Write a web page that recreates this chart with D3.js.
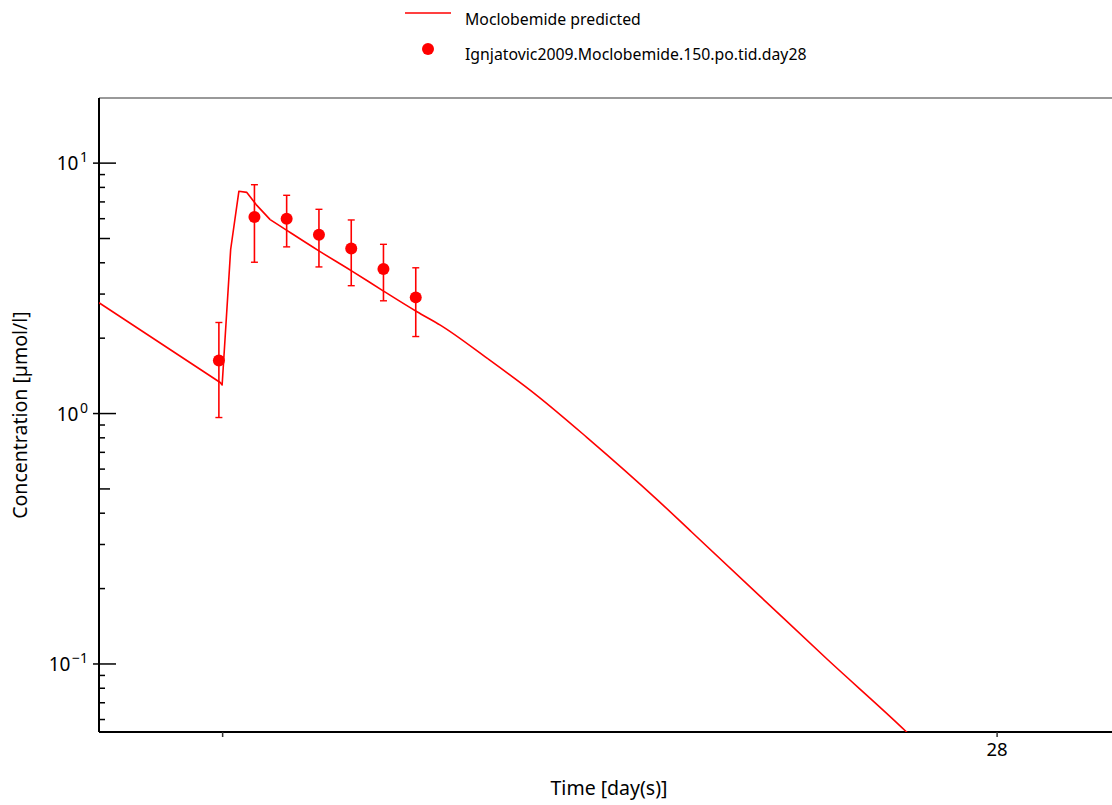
<!DOCTYPE html>
<html>
<head>
<meta charset="utf-8">
<script src="https://cdn.jsdelivr.net/npm/d3@7"></script>
<style>
  html, body { margin: 0; padding: 0; background: #fff; }
  svg { display: block; font-family: "Noto Sans", "Open Sans", sans-serif; }
</style>
</head>
<body>
<svg id="chart" width="1112" height="805"></svg>
<script>
// ---- data (time in days, concentration in µmol/l) ----
const predTime = [26.841, 26.9975, 27.000, 27.011, 27.0216, 27.0319, 27.0439, 27.062, 27.0836,
  27.1244, 27.1676, 27.2084, 27.2516, 27.2817, 27.342, 27.4066, 27.4712, 27.5616, 27.6047,
  27.6951, 27.7813, 27.8824, 27.9535];
const predConc = [2.77, 1.33, 1.30, 4.52, 7.72, 7.64, 6.83, 5.95, 5.386,
  4.473, 3.706, 3.083, 2.550, 2.256, 1.665, 1.180, 0.802, 0.4535, 0.340,
  0.1858, 0.1044, 0.0540, 0.0327];

const obsTime = [26.9958, 27.0417, 27.0833, 27.125, 27.1667, 27.2083, 27.25];
const obsConc = [1.63, 6.10, 6.00, 5.18, 4.56, 3.78, 2.91];
const obsLow  = [0.964, 4.02, 4.63, 3.85, 3.24, 2.82, 2.03];
const obsHigh = [2.31, 8.20, 7.44, 6.54, 5.93, 4.74, 3.82];

const xTicks = [27, 28];
const xTickLabels = ["", "28"];
const yMajorTicks = [0.1, 1, 10];
const yMajorExp = ["−1", "0", "1"];

const legendLabels = ["Moclobemide predicted", "Ignjatovic2009.Moclobemide.150.po.tid.day28"];
const xTitle = "Time [day(s)]";
const yTitle = "Concentration [µmol/l]";
const color = "#ff0000";

// ---- layout ----
const svg = d3.select("#chart");
const L = 99, R = 1112, T = 98, B = 732;

const x = d3.scaleLinear().domain([26.841, 28.149]).range([L, R]);
const y = d3.scaleLog().domain([0.0535, 18.2]).range([B, T]);

const defs = svg.append("defs");
defs.append("clipPath").attr("id", "plotclip")
  .append("rect").attr("x", L).attr("y", T).attr("width", R - L).attr("height", B - T);

// top border
svg.append("line").attr("x1", L).attr("x2", R).attr("y1", T).attr("y2", T)
  .attr("stroke", "#777").attr("stroke-width", 1.5);

// y axis
svg.append("line").attr("x1", L).attr("x2", L).attr("y1", T).attr("y2", B)
  .attr("stroke", "#000").attr("stroke-width", 2);
const minorTicks = [];
for (const dec of [0.01, 0.1, 1, 10]) {
  for (let m = 2; m <= 9; m++) {
    const v = dec * m;
    if (v >= y.domain()[0] && v <= y.domain()[1]) minorTicks.push(v);
  }
}
svg.append("g").selectAll("line").data(minorTicks).join("line")
  .attr("x1", L).attr("x2", d => Math.abs(d / Math.pow(10, Math.floor(Math.log10(d) + 1e-9)) - 5) < 1e-6 ? L + 11 : L + 6)
  .attr("y1", d => y(d)).attr("y2", d => y(d))
  .attr("stroke", "#000").attr("stroke-width", 1.5);
svg.append("g").selectAll("line").data(yMajorTicks).join("line")
  .attr("x1", L - 6).attr("x2", L + 17)
  .attr("y1", d => y(d)).attr("y2", d => y(d))
  .attr("stroke", "#000").attr("stroke-width", 1.5);
const yl = svg.append("g").selectAll("text").data(yMajorTicks).join("text")
  .attr("x", L - 11).attr("y", d => y(d) + 7)
  .attr("text-anchor", "end").attr("font-size", 19).attr("fill", "#000");
yl.append("tspan").text("10");
yl.append("tspan").attr("dx", 1.5).attr("dy", -8).attr("font-size", 14).text((d, i) => yMajorExp[i]);

// x axis
svg.append("line").attr("x1", L).attr("x2", R).attr("y1", B).attr("y2", B)
  .attr("stroke", "#000").attr("stroke-width", 2);
const xAxis = d3.axisBottom(x).tickValues(xTicks).tickSize(5).tickPadding(6)
  .tickFormat((d, i) => xTickLabels[i]);
const gx = svg.append("g").attr("transform", `translate(0,${B})`).call(xAxis);
gx.select(".domain").remove();
gx.selectAll(".tick line").attr("stroke", "#333").attr("stroke-width", 1.5);
gx.selectAll(".tick text").attr("font-size", 18.5).attr("fill", "#000")
  .attr("font-family", "'Noto Sans', 'Open Sans', sans-serif");

// titles
svg.append("text").attr("x", 609).attr("y", 795).attr("text-anchor", "middle")
  .attr("font-size", 19.5).attr("fill", "#000").text(xTitle);
svg.append("text").attr("transform", `translate(27,${415}) rotate(-90)`)
  .attr("text-anchor", "middle").attr("font-size", 19.5).attr("fill", "#000").text(yTitle);

// prediction line: linear through absorption phase, smooth through elimination tail
const plot = svg.append("g").attr("clip-path", "url(#plotclip)");
const predData = predTime.map((t, i) => ({ t, c: predConc[i] }));
const splitIdx = 7;
plot.append("path").datum(predData.slice(0, splitIdx + 1))
  .attr("fill", "none").attr("stroke", color).attr("stroke-width", 1.6)
  .attr("stroke-linejoin", "round")
  .attr("d", d3.line().x(d => x(d.t)).y(d => y(d.c)));
plot.append("path").datum(predData.slice(splitIdx))
  .attr("fill", "none").attr("stroke", color).attr("stroke-width", 1.6)
  .attr("d", d3.line().curve(d3.curveMonotoneX).x(d => x(d.t)).y(d => y(d.c)));

// observed with error bars
const obs = obsTime.map((t, i) => ({ t, c: obsConc[i], lo: obsLow[i], hi: obsHigh[i] }));
const eb = plot.append("g").selectAll("g").data(obs).join("g");
eb.append("line").attr("x1", d => x(d.t)).attr("x2", d => x(d.t))
  .attr("y1", d => y(d.lo)).attr("y2", d => y(d.hi))
  .attr("stroke", color).attr("stroke-width", 1.6);
eb.append("line").attr("x1", d => x(d.t) - 3.5).attr("x2", d => x(d.t) + 3.5)
  .attr("y1", d => y(d.lo)).attr("y2", d => y(d.lo))
  .attr("stroke", color).attr("stroke-width", 1.4);
eb.append("line").attr("x1", d => x(d.t) - 3.5).attr("x2", d => x(d.t) + 3.5)
  .attr("y1", d => y(d.hi)).attr("y2", d => y(d.hi))
  .attr("stroke", color).attr("stroke-width", 1.4);
eb.append("circle").attr("cx", d => x(d.t)).attr("cy", d => y(d.c)).attr("r", 6)
  .attr("fill", color);

// legend
const lg = svg.append("g");
lg.append("line").attr("x1", 405).attr("x2", 451).attr("y1", 13).attr("y2", 13)
  .attr("stroke", color).attr("stroke-width", 1.6);
lg.append("text").attr("x", 465).attr("y", 25).attr("font-size", 15.8).attr("fill", "#000")
  .text(legendLabels[0]);
lg.append("circle").attr("cx", 428).attr("cy", 49).attr("r", 6).attr("fill", color);
lg.append("text").attr("x", 465).attr("y", 60).attr("font-size", 15.8).attr("fill", "#000")
  .text(legendLabels[1]);
</script>
</body>
</html>
